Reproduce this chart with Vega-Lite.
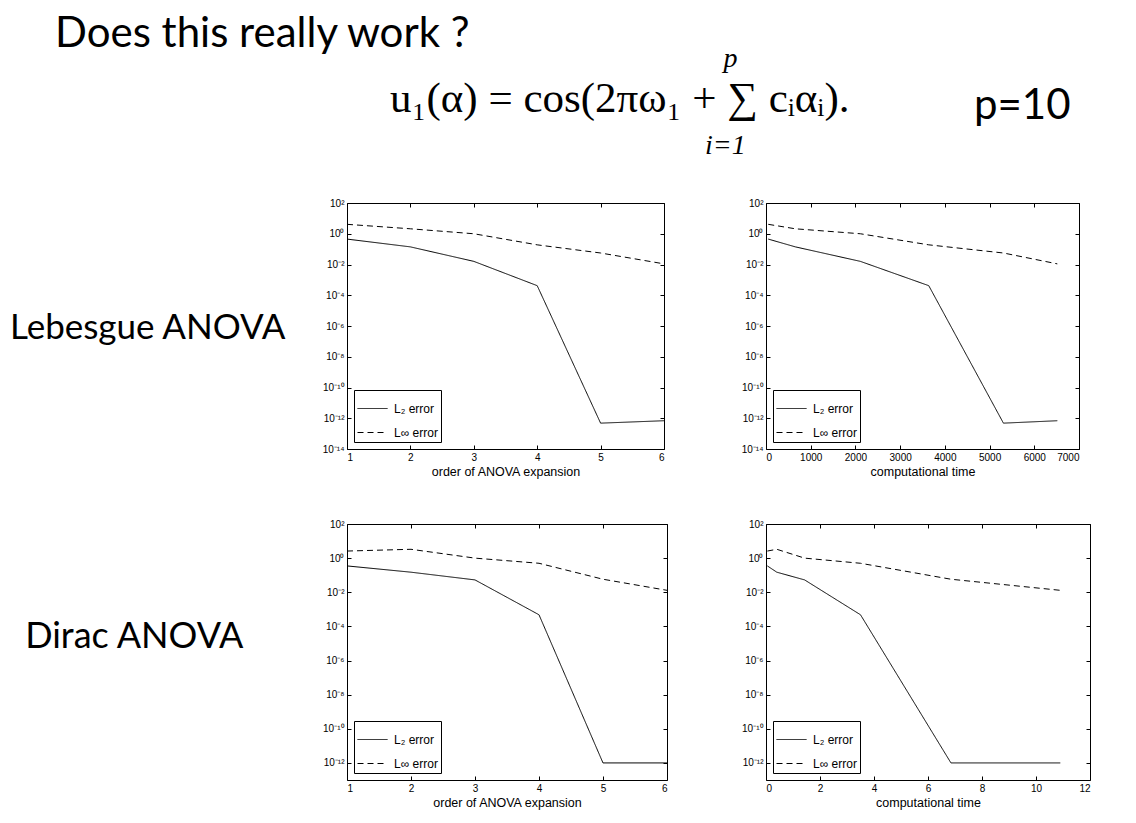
{
  "$schema": "https://vega.github.io/schema/vega-lite/v6.json",
  "autosize": {"type": "none"},
  "padding": {"left": 347, "top": 203, "right": 789, "bottom": 620},
  "background": "white",
  "title": {
    "text": "Does this really work ?",
    "anchor": "start",
    "frame": "group",
    "dx": -292,
    "font": "Lato",
    "fontSize": 42,
    "offset": -12
  },
  "datasets": {
    "lebesgue_order": [
      {"x": 1, "err": 0.45, "s": "L₂ error"},
      {"x": 2, "err": 0.14, "s": "L₂ error"},
      {"x": 3, "err": 0.016, "s": "L₂ error"},
      {"x": 4, "err": 0.00042, "s": "L₂ error"},
      {"x": 5, "err": 4.8e-13, "s": "L₂ error"},
      {"x": 6, "err": 6.9e-13, "s": "L₂ error"},
      {"x": 1, "err": 4.1, "s": "L∞ error"},
      {"x": 2, "err": 2.1, "s": "L∞ error"},
      {"x": 3, "err": 1.0, "s": "L∞ error"},
      {"x": 4, "err": 0.19, "s": "L∞ error"},
      {"x": 5, "err": 0.056, "s": "L∞ error"},
      {"x": 6, "err": 0.011, "s": "L∞ error"}
    ],
    "lebesgue_time": [
      {"x": 50, "err": 0.45, "s": "L₂ error"},
      {"x": 657, "err": 0.14, "s": "L₂ error"},
      {"x": 2110, "err": 0.016, "s": "L₂ error"},
      {"x": 3640, "err": 0.00042, "s": "L₂ error"},
      {"x": 5310, "err": 4.8e-13, "s": "L₂ error"},
      {"x": 6515, "err": 6.9e-13, "s": "L₂ error"},
      {"x": 50, "err": 4.1, "s": "L∞ error"},
      {"x": 657, "err": 2.1, "s": "L∞ error"},
      {"x": 2110, "err": 1.0, "s": "L∞ error"},
      {"x": 3640, "err": 0.19, "s": "L∞ error"},
      {"x": 5310, "err": 0.056, "s": "L∞ error"},
      {"x": 6515, "err": 0.011, "s": "L∞ error"}
    ],
    "dirac_order": [
      {"x": 1, "err": 0.35, "s": "L₂ error"},
      {"x": 2, "err": 0.15, "s": "L₂ error"},
      {"x": 3, "err": 0.053, "s": "L₂ error"},
      {"x": 4, "err": 0.00048, "s": "L₂ error"},
      {"x": 5, "err": 1e-12, "s": "L₂ error"},
      {"x": 6, "err": 1e-12, "s": "L₂ error"},
      {"x": 1, "err": 2.6, "s": "L∞ error"},
      {"x": 2, "err": 3.3, "s": "L∞ error"},
      {"x": 3, "err": 1.0, "s": "L∞ error"},
      {"x": 4, "err": 0.5, "s": "L∞ error"},
      {"x": 5, "err": 0.058, "s": "L∞ error"},
      {"x": 6, "err": 0.013, "s": "L∞ error"}
    ],
    "dirac_time": [
      {"x": 0.05, "err": 0.35, "s": "L₂ error"},
      {"x": 0.4, "err": 0.15, "s": "L₂ error"},
      {"x": 1.43, "err": 0.053, "s": "L₂ error"},
      {"x": 3.5, "err": 0.00048, "s": "L₂ error"},
      {"x": 6.85, "err": 1e-12, "s": "L₂ error"},
      {"x": 10.9, "err": 1e-12, "s": "L₂ error"},
      {"x": 0.05, "err": 2.6, "s": "L∞ error"},
      {"x": 0.4, "err": 3.3, "s": "L∞ error"},
      {"x": 1.43, "err": 1.0, "s": "L∞ error"},
      {"x": 3.5, "err": 0.5, "s": "L∞ error"},
      {"x": 6.85, "err": 0.058, "s": "L∞ error"},
      {"x": 10.9, "err": 0.013, "s": "L∞ error"}
    ]
  },
  "columns": 2,
  "align": "none",
  "bounds": "flush",
  "spacing": {"column": 99, "row": 75},
  "concat": [
    {
      "title": {
        "text": "u₁(α) = cos(2πω₁ + ∑ cᵢαᵢ).",
        "subtitle": "\u200b\u2003\u2003\u2003\u2003\u2003\u2003\u2003\u2003\u2003\u2003\u2003\u2005i=1",
        "anchor": "start",
        "frame": "group",
        "dx": 43,
        "font": "Liberation Serif",
        "fontSize": 43,
        "subtitleFont": "Liberation Serif",
        "subtitleFontStyle": "italic",
        "subtitleFontSize": 28,
        "subtitlePadding": 11,
        "offset": 38
      },
      "width": 317,
      "height": 246,
      "data": {"name": "lebesgue_order"},
      "layer": [
        {
          "mark": {"type": "line", "color": "black", "strokeWidth": 1},
          "encoding": {
            "x": {
              "field": "x", "type": "quantitative",
              "scale": {"domain": [1, 6]},
              "axis": {"values": [1, 2, 3, 4, 5, 6], "title": "order of ANOVA expansion"}
            },
            "y": {
              "field": "err", "type": "quantitative",
              "scale": {"type": "log", "domain": [1e-14, 100]},
              "axis": {
                "values": [1e-14, 1e-12, 1e-10, 1e-8, 1e-6, 1e-4, 1e-2, 1, 100],
                "labelExpr": "['10⁻¹⁴','10⁻¹³','10⁻¹²','10⁻¹¹','10⁻¹⁰','10⁻⁹','10⁻⁸','10⁻⁷','10⁻⁶','10⁻⁵','10⁻⁴','10⁻³','10⁻²','10⁻¹','10⁰','10¹','10²'][round(log(datum.value)/LN10)+14]",
                "title": "Lebesgue ANOVA",
                "titleAngle": 0,
                "titleAlign": "right",
                "titleBaseline": "middle",
                "titleX": -62,
                "titleY": 124,
                "titleFont": "Lato",
                "titleFontSize": 35
              }
            },
            "strokeDash": {
              "field": "s", "type": "nominal",
              "scale": {"domain": ["L₂ error", "L∞ error"], "range": [[1, 0], [6, 4]]},
              "legend": {"title": null}
            }
          }
        },
        {
          "mark": {"type": "line", "opacity": 0},
          "encoding": {
            "x": {"field": "x", "type": "quantitative", "axis": {"orient": "top", "values": [1, 2, 3, 4, 5, 6], "labels": false, "title": null}},
            "y": {"field": "err", "type": "quantitative", "axis": {"orient": "right", "values": [1e-14, 1e-12, 1e-10, 1e-8, 1e-6, 1e-4, 1e-2, 1, 100], "labels": false, "title": null}}
          }
        }
      ],
      "resolve": {"axis": {"x": "independent", "y": "independent"}}
    },
    {
      "width": 313,
      "height": 246,
      "data": {"name": "lebesgue_time"},
      "layer": [
        {
          "mark": {"type": "line", "color": "black", "strokeWidth": 1},
          "encoding": {
            "x": {
              "field": "x", "type": "quantitative",
              "scale": {"domain": [0, 7000]},
              "axis": {"values": [0, 1000, 2000, 3000, 4000, 5000, 6000, 7000], "format": "d", "title": "computational time"}
            },
            "y": {
              "field": "err", "type": "quantitative",
              "scale": {"type": "log", "domain": [1e-14, 100]},
              "axis": {
                "values": [1e-14, 1e-12, 1e-10, 1e-8, 1e-6, 1e-4, 1e-2, 1, 100],
                "labelExpr": "['10⁻¹⁴','10⁻¹³','10⁻¹²','10⁻¹¹','10⁻¹⁰','10⁻⁹','10⁻⁸','10⁻⁷','10⁻⁶','10⁻⁵','10⁻⁴','10⁻³','10⁻²','10⁻¹','10⁰','10¹','10²'][round(log(datum.value)/LN10)+14]",
                "title": null
              }
            },
            "strokeDash": {
              "field": "s", "type": "nominal",
              "scale": {"domain": ["L₂ error", "L∞ error"], "range": [[1, 0], [6, 4]]},
              "legend": {"title": null}
            }
          }
        },
        {
          "mark": {"type": "line", "opacity": 0},
          "encoding": {
            "x": {
              "field": "x", "type": "quantitative",
              "axis": {
                "orient": "top",
                "values": [0, 1000, 2000, 3000, 4000, 5000, 6000, 7000],
                "labels": false,
                "title": "p",
                "titleX": -43,
                "titleY": -137,
                "titleAlign": "left",
                "titleBaseline": "alphabetic",
                "titleAngle": 0,
                "titleFont": "Liberation Serif",
                "titleFontStyle": "italic",
                "titleFontSize": 28
              }
            },
            "y": {
              "field": "err", "type": "quantitative",
              "axis": {
                "orient": "right",
                "values": [1e-14, 1e-12, 1e-10, 1e-8, 1e-6, 1e-4, 1e-2, 1, 100],
                "labels": false,
                "title": "p=10",
                "titleX": -9,
                "titleY": -85,
                "titleAlign": "right",
                "titleBaseline": "alphabetic",
                "titleAngle": 0,
                "titleFont": "Lato",
                "titleFontSize": 42
              }
            }
          }
        }
      ],
      "resolve": {"axis": {"x": "independent", "y": "independent"}}
    },
    {
      "width": 320,
      "height": 256,
      "data": {"name": "dirac_order"},
      "layer": [
        {
          "mark": {"type": "line", "color": "black", "strokeWidth": 1},
          "encoding": {
            "x": {
              "field": "x", "type": "quantitative",
              "scale": {"domain": [1, 6]},
              "axis": {"values": [1, 2, 3, 4, 5, 6], "title": "order of ANOVA expansion"}
            },
            "y": {
              "field": "err", "type": "quantitative",
              "scale": {"type": "log", "domain": [1e-13, 100]},
              "axis": {
                "values": [1e-12, 1e-10, 1e-8, 1e-6, 1e-4, 1e-2, 1, 100],
                "labelExpr": "['10⁻¹⁴','10⁻¹³','10⁻¹²','10⁻¹¹','10⁻¹⁰','10⁻⁹','10⁻⁸','10⁻⁷','10⁻⁶','10⁻⁵','10⁻⁴','10⁻³','10⁻²','10⁻¹','10⁰','10¹','10²'][round(log(datum.value)/LN10)+14]",
                "title": "Dirac ANOVA",
                "titleAngle": 0,
                "titleAlign": "right",
                "titleBaseline": "middle",
                "titleX": -104,
                "titleY": 112,
                "titleFont": "Lato",
                "titleFontSize": 36
              }
            },
            "strokeDash": {
              "field": "s", "type": "nominal",
              "scale": {"domain": ["L₂ error", "L∞ error"], "range": [[1, 0], [6, 4]]},
              "legend": {"title": null}
            }
          }
        },
        {
          "mark": {"type": "line", "opacity": 0},
          "encoding": {
            "x": {"field": "x", "type": "quantitative", "axis": {"orient": "top", "values": [1, 2, 3, 4, 5, 6], "labels": false, "title": null}},
            "y": {"field": "err", "type": "quantitative", "axis": {"orient": "right", "values": [1e-12, 1e-10, 1e-8, 1e-6, 1e-4, 1e-2, 1, 100], "labels": false, "title": null}}
          }
        }
      ],
      "resolve": {"axis": {"x": "independent", "y": "independent"}}
    },
    {
      "width": 324,
      "height": 256,
      "data": {"name": "dirac_time"},
      "layer": [
        {
          "mark": {"type": "line", "color": "black", "strokeWidth": 1},
          "encoding": {
            "x": {
              "field": "x", "type": "quantitative",
              "scale": {"domain": [0, 12]},
              "axis": {"values": [0, 2, 4, 6, 8, 10, 12], "title": "computational time"}
            },
            "y": {
              "field": "err", "type": "quantitative",
              "scale": {"type": "log", "domain": [1e-13, 100]},
              "axis": {
                "values": [1e-12, 1e-10, 1e-8, 1e-6, 1e-4, 1e-2, 1, 100],
                "labelExpr": "['10⁻¹⁴','10⁻¹³','10⁻¹²','10⁻¹¹','10⁻¹⁰','10⁻⁹','10⁻⁸','10⁻⁷','10⁻⁶','10⁻⁵','10⁻⁴','10⁻³','10⁻²','10⁻¹','10⁰','10¹','10²'][round(log(datum.value)/LN10)+14]",
                "title": null
              }
            },
            "strokeDash": {
              "field": "s", "type": "nominal",
              "scale": {"domain": ["L₂ error", "L∞ error"], "range": [[1, 0], [6, 4]]},
              "legend": {"title": null}
            }
          }
        },
        {
          "mark": {"type": "line", "opacity": 0},
          "encoding": {
            "x": {"field": "x", "type": "quantitative", "axis": {"orient": "top", "values": [0, 2, 4, 6, 8, 10, 12], "labels": false, "title": null}},
            "y": {"field": "err", "type": "quantitative", "axis": {"orient": "right", "values": [1e-12, 1e-10, 1e-8, 1e-6, 1e-4, 1e-2, 1, 100], "labels": false, "title": null}}
          }
        }
      ],
      "resolve": {"axis": {"x": "independent", "y": "independent"}}
    }
  ],
  "resolve": {"scale": {"strokeDash": "independent"}, "legend": {"strokeDash": "independent"}},
  "config": {
    "view": {"stroke": "black", "strokeWidth": 1},
    "title": {"color": "black", "fontWeight": "normal", "subtitleColor": "black", "subtitleFontWeight": "normal"},
    "axis": {
      "grid": false,
      "domain": false,
      "tickColor": "black",
      "tickSize": -4,
      "labelPadding": 7,
      "labelColor": "black",
      "labelFont": "Liberation Sans",
      "labelFontSize": 10,
      "titleFont": "Liberation Sans",
      "titleFontSize": 12.5,
      "titleFontWeight": "normal",
      "titleColor": "black",
      "titlePadding": 3
    },
    "legend": {
      "orient": "bottom-left",
      "offset": 7,
      "strokeColor": "black",
      "fillColor": "white",
      "padding": 3,
      "rowPadding": 2,
      "symbolType": "stroke",
      "symbolSize": 900,
      "symbolStrokeWidth": 1,
      "symbolStrokeColor": "black",
      "labelFont": "Liberation Sans",
      "labelFontSize": 12,
      "labelColor": "black",
      "labelOffset": 6
    }
  }
}
